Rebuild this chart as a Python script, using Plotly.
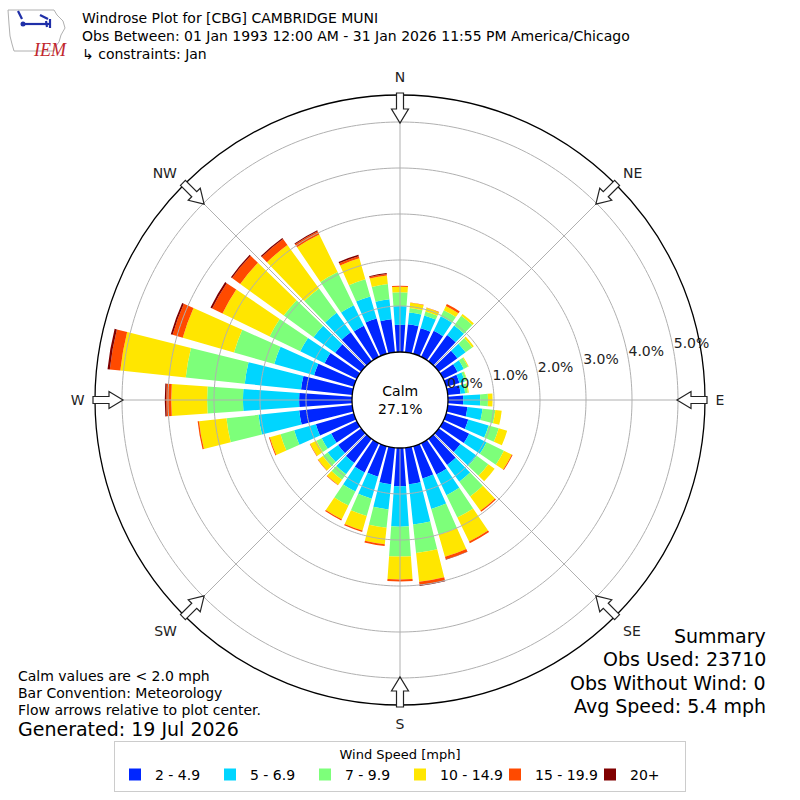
import numpy as np
import plotly.graph_objects as go

# wind direction bins (degrees, meteorological) and speed bins
directions = list(range(0, 360, 10))
speed_bins = ['2 - 4.9', '5 - 6.9', '7 - 9.9', '10 - 14.9', '15 - 19.9', '20+']
bin_colors = ['#0026ff', '#00d5ff', '#7dff7a', '#ffe600', '#ff4a00', '#800000']

# percent of observations per direction, one list per speed bin
freq_2_5 = [0.59, 0.61, 0.58, 0.63, 0.70, 0.50, 0.35, 0.30, 0.28, 0.33, 0.43, 0.50,
            0.63, 0.58, 0.70, 0.76, 0.73, 0.80, 0.83, 0.80, 0.69, 0.71, 0.65, 0.62,
            0.62, 0.86, 1.16, 1.15, 1.12, 0.90, 0.78, 0.70, 0.78, 0.75, 0.80, 0.72]
freq_5_7 = [0.41, 0.26, 0.29, 0.35, 0.26, 0.22, 0.15, 0.12, 0.10, 0.37, 0.33, 0.46,
            0.42, 0.44, 0.45, 0.50, 0.69, 0.88, 0.88, 0.55, 0.50, 0.46, 0.30, 0.28,
            0.23, 0.49, 0.89, 1.22, 1.23, 0.90, 0.59, 0.58, 0.52, 0.50, 0.50, 0.44]
freq_7_10 = [0.30, 0.10, 0.09, 0.15, 0.26, 0.18, 0.10, 0.05, 0.06, 0.17, 0.28, 0.23,
             0.42, 0.31, 0.40, 0.54, 0.58, 0.62, 0.65, 0.40, 0.39, 0.34, 0.15, 0.13,
             0.13, 0.31, 0.70, 0.78, 1.29, 0.91, 0.74, 0.80, 0.65, 0.80, 0.39, 0.33]
freq_10_15 = [0.12, 0.11, 0.08, 0.10, 0.05, 0.04, 0.02, 0.01, 0.02, 0.10, 0.14, 0.19,
              0.19, 0.17, 0.38, 0.58, 0.50, 0.63, 0.50, 0.36, 0.33, 0.33, 0.14, 0.13,
              0.15, 0.24, 0.60, 0.78, 1.43, 1.16, 1.14, 1.17, 1.17, 0.91, 0.47, 0.19]
freq_15_20 = [0.02, 0.01, 0.01, 0.05, 0.00, 0.00, 0.00, 0.00, 0.00, 0.00, 0.00, 0.00,
              0.02, 0.00, 0.03, 0.04, 0.06, 0.07, 0.04, 0.04, 0.03, 0.03, 0.01, 0.01,
              0.01, 0.02, 0.03, 0.11, 0.23, 0.23, 0.25, 0.22, 0.16, 0.08, 0.05, 0.03]
freq_20_up = [0.00, 0.00, 0.00, 0.00, 0.00, 0.00, 0.00, 0.00, 0.00, 0.00, 0.00, 0.00,
              0.00, 0.00, 0.00, 0.00, 0.01, 0.02, 0.00, 0.00, 0.00, 0.00, 0.00, 0.00,
              0.00, 0.00, 0.00, 0.03, 0.05, 0.04, 0.04, 0.03, 0.03, 0.02, 0.03, 0.02]

calm_pct = 27.1
radial_ticks = [0, 1, 2, 3, 4, 5]
compass = ['N', 'NE', 'E', 'SE', 'S', 'SW', 'W', 'NW']
compass_deg = [0, 45, 90, 135, 180, 225, 270, 315]

title_lines = ['Windrose Plot for [CBG] CAMBRIDGE MUNI',
               'Obs Between: 01 Jan 1993 12:00 AM - 31 Jan 2026 11:55 PM America/Chicago',
               '\u21b3 constraints: Jan']
notes = ['Calm values are < 2.0 mph', 'Bar Convention: Meteorology',
         'Flow arrows relative to plot center.']
summary = ['Summary', 'Obs Used: 23710', 'Obs Without Wind: 0', 'Avg Speed: 5.4 mph']

W = 800
CX, CY, R = 400, 400, 305
RMAX = (R - 48) / 46


def px(x, y):
    return x / W, 1 - y / W


def path_from_px(points, close=True):
    s = ''
    for i, (x, y) in enumerate(points):
        a, b = px(x, y)
        s += ('M' if i == 0 else 'L') + '%.5f,%.5f ' % (a, b)
    return s + ('Z' if close else '')


def arrow_shape(deg):
    th = np.radians(deg)
    ux, uy = np.sin(th), -np.cos(th)
    vx, vy = -uy, ux
    outline = [(307, -3.5), (291, -3.5), (291, -8.5), (277, 0),
               (291, 8.5), (291, 3.5), (307, 3.5)]
    pts = [(CX + r * ux + w * vx, CY + r * uy + w * vy) for r, w in outline]
    return dict(type='path', xref='paper', yref='paper', path=path_from_px(pts),
                fillcolor='white', line=dict(color='#222222', width=1.2), layer='above')


all_freqs = [freq_2_5, freq_5_7, freq_7_10, freq_10_15, freq_15_20, freq_20_up]

fig = go.Figure()
for name, color, vals in zip(speed_bins, bin_colors, all_freqs):
    fig.add_trace(go.Barpolar(r=vals, theta=directions, name=name, width=8,
                              marker=dict(color=color, line=dict(width=0))))

# grid drawn on top of the bars, as matplotlib does
ring_theta = np.linspace(0, 360, 361)
grid_r, grid_t = [], []
for v in radial_ticks[1:]:
    grid_r += [v] * len(ring_theta) + [None]
    grid_t += list(ring_theta) + [None]
for d in compass_deg:
    grid_r += [0, RMAX, None]
    grid_t += [d, d, None]
fig.add_trace(go.Scatterpolar(r=grid_r, theta=grid_t, mode='lines', showlegend=False,
                              hoverinfo='skip', line=dict(color='#b0b0b0', width=1)))

# radial labels, laid out like the matplotlib original (horizontal, left aligned)
fig.add_trace(go.Scatterpolar(r=radial_ticks, theta=[80] * len(radial_ticks), mode='text',
                              text=['%.1f%%' % v for v in radial_ticks],
                              textposition='top right', showlegend=False, hoverinfo='skip',
                              textfont=dict(size=14, color='#222222')))

dom = [(CX - R) / W, (CX + R) / W]
fig.update_layout(
    width=800, height=800,
    margin=dict(l=0, r=0, t=0, b=0),
    paper_bgcolor='white',
    font=dict(family='DejaVu Sans', color='black'),
    polar=dict(
        domain=dict(x=dom, y=dom),
        bgcolor='white',
        hole=48 / R,
        barmode='stack',
        radialaxis=dict(range=[0, RMAX], tickvals=radial_ticks, showgrid=False,
                        showticklabels=False, showline=False, ticks=''),
        angularaxis=dict(rotation=90, direction='clockwise', showgrid=False,
                         tickvals=compass_deg, ticktext=compass,
                         ticks='outside', ticklen=7, tickcolor='rgba(0,0,0,0)',
                         showline=True, linecolor='black', linewidth=1.3,
                         tickfont=dict(size=14, color='#222222')),
    ),
    legend=dict(orientation='h', x=0.5, xanchor='center', y=1 - 741 / W, yanchor='top',
                title=dict(text='Wind Speed [mph]', side='top center', font=dict(size=13)),
                font=dict(size=14), bordercolor='#cccccc', borderwidth=1,
                entrywidth=50, bgcolor='white'),
    showlegend=True,
)

shapes = [arrow_shape(d) for d in compass_deg]

# IEM logo: rough Iowa outline with a blue wind symbol
iowa = [(8, 10), (54, 10), (57, 15), (63, 21), (65, 28), (61, 35), (59, 42),
        (55, 47), (54, 51), (14, 51), (12, 44), (10, 36), (9, 24)]
shapes.append(dict(type='path', xref='paper', yref='paper', path=path_from_px(iowa),
                   line=dict(color='#b0b0b0', width=1)))
logo_lines = [[(22, 24), (50, 24)], [(18, 11), (22, 19)], [(40, 15), (48, 19)],
              [(50, 19), (50, 28)], [(46, 21), (47, 27)]]
for seg in logo_lines:
    shapes.append(dict(type='path', xref='paper', yref='paper',
                       path=path_from_px(seg, close=False),
                       line=dict(color='#1f2fa8', width=2.2)))
ax, ay = px(23, 24)
shapes.append(dict(type='circle', xref='paper', yref='paper',
                   x0=ax - 2.5 / W, x1=ax + 2.5 / W, y0=ay - 2.5 / W, y1=ay + 2.5 / W,
                   fillcolor='#1f2fa8', line=dict(width=0)))

annotations = []
lx, ly = px(31, 38)
annotations.append(dict(x=lx, y=ly, xref='paper', yref='paper', text='IEM', showarrow=False,
                        font=dict(family='Liberation Serif', size=18, color='#c1272d', style='italic')))
for i, t in enumerate(title_lines):
    x, y = px(80, 18 + 18 * i)
    annotations.append(dict(x=x, y=y, xref='paper', yref='paper', text=t, showarrow=False,
                            xanchor='left', yanchor='middle', font=dict(size=14)))
for i, t in enumerate(notes):
    x, y = px(16, 676 + 17 * i)
    annotations.append(dict(x=x, y=y, xref='paper', yref='paper', text=t, showarrow=False,
                            xanchor='left', yanchor='middle', font=dict(size=14)))
x, y = px(16, 729)
annotations.append(dict(x=x, y=y, xref='paper', yref='paper', text='Generated: 19 Jul 2026',
                        showarrow=False, xanchor='left', yanchor='middle', font=dict(size=19)))
for i, t in enumerate(summary):
    x, y = px(768, 636 + 23.3 * i)
    annotations.append(dict(x=x, y=y, xref='paper', yref='paper', text=t, showarrow=False,
                            xanchor='right', yanchor='middle', font=dict(size=19)))
annotations.append(dict(x=0.5, y=0.5, xref='paper', yref='paper',
                        text='Calm<br>%.1f%%' % calm_pct, showarrow=False,
                        font=dict(size=14)))

fig.update_layout(shapes=shapes, annotations=annotations)
fig.write_html('out.html', config={'displayModeBar': False},
               post_script="document.body.style.margin='0';document.body.style.overflow='hidden';")
